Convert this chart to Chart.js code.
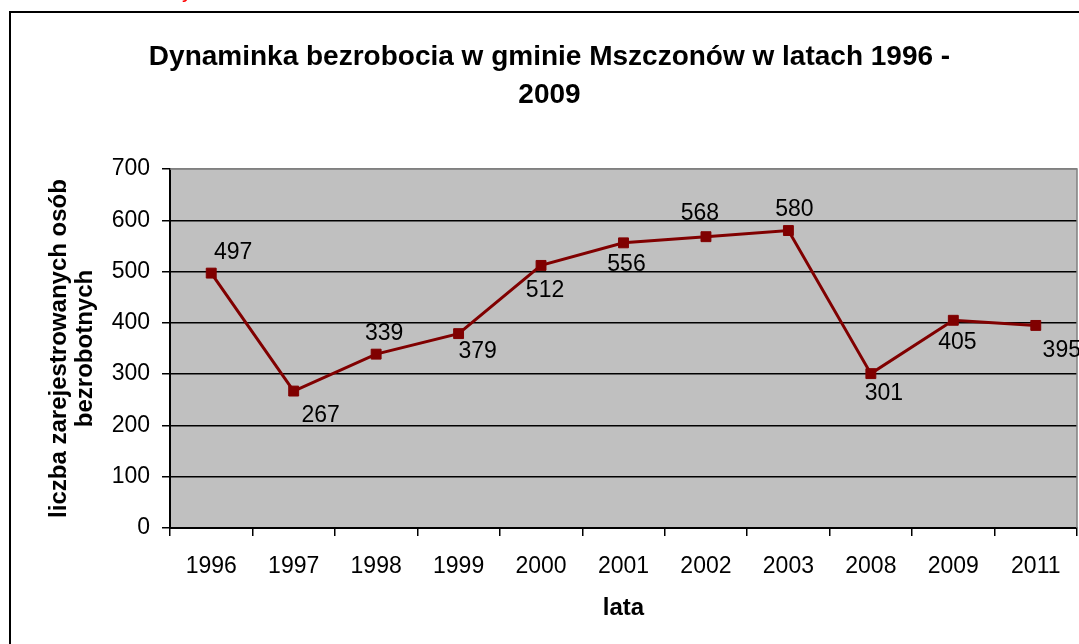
<!DOCTYPE html>
<html>
<head>
<meta charset="utf-8">
<script src="https://cdn.jsdelivr.net/npm/chart.js@4"></script>
<style>
    html, body { margin: 0; padding: 0; background: #fff; }
    #wrap { width: 1079px; height: 644px; position: relative; }
</style>
</head>
<body>
<div id="wrap"><canvas id="chart-bezrobocie" width="1079" height="644"></canvas></div>
<script>
// Dane z wykresu
const lata = ['1996', '1997', '1998', '1999', '2000', '2001', '2002', '2003', '2008', '2009', '2011'];
const bezrobotni = [497, 267, 339, 379, 512, 556, 568, 580, 301, 405, 395];
const osY = [0, 100, 200, 300, 400, 500, 600, 700];

// przesunięcia etykiet względem punktów (styl, nie dane)
const labelOffsets = [[22, -20], [27, 25], [8, -20], [19, 18], [4, 25], [3, 22], [-6, -23], [6, -21], [13, 20], [4, 22], [26, 25]];

const FONT = '"Liberation Sans", Arial, sans-serif';

// tło, ramka i szare pole wykresu
const ramkaPlugin = {
    id: 'ramka',
    beforeDraw(chart) {
        const ctx = chart.ctx;
        const a = chart.chartArea;
        ctx.save();
        ctx.fillStyle = '#fff';
        ctx.fillRect(0, 0, chart.width, chart.height);
        // fragment czerwonego tekstu nad ramką
        ctx.fillStyle = '#ff0000';
        ctx.font = '22px ' + FONT;
        ctx.textBaseline = 'alphabetic';
        ctx.fillText('y', 182, -3);
        ctx.strokeStyle = '#000';
        ctx.lineWidth = 2;
        ctx.strokeRect(10, 12, chart.width + 20, chart.height + 20);
        ctx.fillStyle = '#c0c0c0';
        ctx.fillRect(a.left, a.top, a.right - a.left, a.bottom - a.top);
        ctx.restore();
    },
    beforeDatasetsDraw(chart) {
        const ctx = chart.ctx;
        const a = chart.chartArea;
        ctx.save();
        ctx.strokeStyle = '#808080';
        ctx.lineWidth = 1.5;
        ctx.beginPath();
        ctx.moveTo(a.left, a.top);
        ctx.lineTo(a.right, a.top);
        ctx.lineTo(a.right, a.bottom);
        ctx.stroke();
        ctx.restore();
    }
};

// etykiety wartości przy punktach
const etykietyPlugin = {
    id: 'etykiety',
    afterDatasetsDraw(chart) {
        const ctx = chart.ctx;
        const meta = chart.getDatasetMeta(0);
        ctx.save();
        ctx.fillStyle = '#000';
        ctx.font = '23px ' + FONT;
        ctx.textAlign = 'center';
        ctx.textBaseline = 'middle';
        meta.data.forEach((pt, i) => {
            const off = labelOffsets[i] || [0, -20];
            ctx.fillText(String(bezrobotni[i]), pt.x + off[0], pt.y + off[1]);
        });
        ctx.restore();
    }
};

Chart.defaults.font.family = FONT;
Chart.defaults.color = '#000';

new Chart(document.getElementById('chart-bezrobocie').getContext('2d'), {
    type: 'line',
    data: {
        labels: lata,
        datasets: [{
            label: 'liczba bezrobotnych',
            data: bezrobotni,
            borderColor: '#800000',
            borderWidth: 3,
            pointStyle: 'rect',
            pointRadius: 7,
            pointBackgroundColor: '#800000',
            pointBorderColor: '#800000',
            pointBorderWidth: 1,
            tension: 0
        }]
    },
    options: {
        responsive: false,
        animation: false,
        layout: { autoPadding: false, padding: { left: 22, right: 2, top: 0, bottom: 0 } },
        plugins: {
            legend: { display: false },
            tooltip: { enabled: false },
            title: {
                display: true,
                text: ['Dynaminka bezrobocia w gminie Mszczonów w latach 1996 -', '2009'],
                color: '#000',
                font: { size: 28, weight: 'bold', lineHeight: '38px' },
                padding: { top: 38, bottom: 55 }
            }
        },
        scales: {
            x: {
                offset: true,
                grid: { offset: true, drawOnChartArea: false, drawTicks: true, tickLength: 8, tickColor: '#000', lineWidth: 1.5 },
                border: { color: '#000', width: 2 },
                ticks: { color: '#000', font: { size: 23 }, padding: 17, maxRotation: 0, autoSkip: false },
                title: { display: true, text: 'lata', color: '#000', font: { size: 24, weight: 'bold' }, padding: { top: 0, bottom: 21 } },
                afterFit: s => { s.height = 116; }
            },
            y: {
                min: 0,
                max: 700,
                afterBuildTicks: s => { s.ticks = osY.map(v => ({ value: v })); },
                grid: {
                    color: c => (c.tick && c.tick.value === 700) ? '#808080' : '#000',
                    lineWidth: 1.5,
                    tickLength: 8,
                    tickColor: '#000'
                },
                border: { color: '#000', width: 2 },
                ticks: { color: '#000', font: { size: 23 }, padding: 12 },
                title: {
                    display: true,
                    text: ['liczba zarejestrowanych osób', 'bezrobotnych'],
                    color: '#000',
                    font: { size: 24, weight: 'bold', lineHeight: '26px' },
                    padding: { top: 24, bottom: 0 }
                },
                afterFit: s => { s.width = 148; }
            }
        }
    },
    plugins: [ramkaPlugin, etykietyPlugin]
});
</script>
</body>
</html>
